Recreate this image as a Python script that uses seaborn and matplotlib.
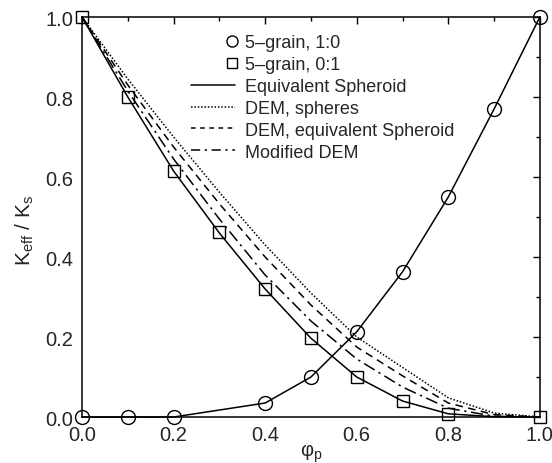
import numpy as np
import pandas as pd
import matplotlib
matplotlib.use("Agg")
import matplotlib.pyplot as plt
import seaborn as sns
from matplotlib.lines import Line2D
from matplotlib.legend_handler import HandlerLine2D
from matplotlib.ticker import MultipleLocator

# ---- data ----
phi_curve = [0.0, 0.1, 0.2, 0.3, 0.4, 0.5, 0.6, 0.7, 0.8, 0.9, 1.0]
equiv_spheroid = [1.0, 0.80, 0.615, 0.46, 0.32, 0.197, 0.10, 0.04, 0.008, 0.0008, 0.0]
dem_spheres = [1.0, 0.845, 0.70, 0.562, 0.43, 0.31, 0.20, 0.124, 0.048, 0.01, 0.0]
dem_equiv = [1.0, 0.83, 0.675, 0.533, 0.40, 0.28, 0.175, 0.103, 0.035, 0.006, 0.0]
modified_dem = [1.0, 0.815, 0.645, 0.495, 0.355, 0.24, 0.145, 0.075, 0.022, 0.002, 0.0]

phi_circ = [0.0, 0.1, 0.2, 0.4, 0.5, 0.6, 0.7, 0.8, 0.9, 1.0]
grain_10 = [0.0, 0.0, 0.0, 0.035, 0.10, 0.213, 0.363, 0.55, 0.77, 1.0]

phi_sq = [0.0, 0.1, 0.2, 0.3, 0.4, 0.5, 0.6, 0.7, 0.8, 1.0]
grain_01 = [1.0, 0.80, 0.615, 0.462, 0.32, 0.197, 0.10, 0.04, 0.008, 0.0]

xticks = [0.0, 0.2, 0.4, 0.6, 0.8, 1.0]
xticklabels = ["0.0", "0.2", "0.4", "0.6", "0.8", "1.0"]
yticks = [0.0, 0.2, 0.4, 0.6, 0.8, 1.0]
yticklabels = ["0.0", "0.2", "0.4", "0.6", "0.8", "1.0"]

labels = ["5\u2013grain, 1:0", "5\u2013grain, 0:1", "Equivalent Spheroid",
          "DEM, spheres", "DEM, equivalent Spheroid", "Modified DEM"]

# ---- style ----
sns.set_theme(style="white")
plt.rcParams["font.family"] = ["Liberation Sans", "DejaVu Sans"]
plt.rcParams["mathtext.fontset"] = "custom"
plt.rcParams["mathtext.rm"] = "Liberation Sans"
plt.rcParams["mathtext.it"] = "Liberation Sans:italic"

fig = plt.figure(figsize=(5.52, 4.64), dpi=100)
ax = fig.add_axes([0.1486, 0.0991, 0.8294, 0.8621])

lw = 1.1
curves = [
    (equiv_spheroid, None),
    (dem_spheres, (1, 1.2)),
    (dem_equiv, (5, 3.5)),
    (modified_dem, (8, 3, 1.5, 3)),
]
for vals, dash in curves:
    d = pd.DataFrame({"phi": phi_curve, "k": vals})
    sns.lineplot(data=d, x="phi", y="k", ax=ax, color="black", lw=lw,
                 estimator=None, sort=False)
    line = ax.lines[-1]
    if dash is not None:
        line.set_dashes(dash)
    line.set_clip_on(False)

# circle series connected by line
dc = pd.DataFrame({"phi": phi_circ, "k": grain_10})
sns.lineplot(data=dc, x="phi", y="k", ax=ax, color="black", lw=lw,
             estimator=None, sort=False)
ax.lines[-1].set_clip_on(False)
ax.plot(dc["phi"], dc["k"], linestyle="none", marker="o", markersize=10,
        markerfacecolor="none", markeredgecolor="black", markeredgewidth=1.0,
        clip_on=False, zorder=5)

ds = pd.DataFrame({"phi": phi_sq, "k": grain_01})
ax.plot(ds["phi"], ds["k"], linestyle="none", marker="s", markersize=9,
        markerfacecolor="none", markeredgecolor="black", markeredgewidth=1.0,
        clip_on=False, zorder=5)

ax.set_xlim(0, 1)
ax.set_ylim(0, 1)
ax.set_xticks(xticks)
ax.set_xticklabels(xticklabels)
ax.set_yticks(yticks)
ax.set_yticklabels(yticklabels)
ax.xaxis.set_minor_locator(MultipleLocator(0.1))
ax.yaxis.set_minor_locator(MultipleLocator(0.1))
ax.tick_params(which="both", direction="in", top=True, right=True,
               color="black", width=1.0)
ax.tick_params(which="major", length=5, labelsize=14.5)
ax.tick_params(axis="x", which="major", pad=5.5)
ax.tick_params(axis="y", which="major", pad=6.5)
ax.tick_params(which="minor", length=3)
for s in ax.spines.values():
    s.set_color("black")
    s.set_linewidth(1.1)

ax.set_xlabel(r"φ$_\mathrm{p}$", fontsize=14.5)
ax.xaxis.set_label_coords(0.5, -0.062)
ax.set_ylabel(r"K$_\mathrm{eff}$ / K$_\mathrm{s}$", fontsize=15)
ax.yaxis.set_label_coords(-0.10, 0.47)


class RightMarkerHandler(HandlerLine2D):
    def get_xdata(self, legend, xdescent, ydescent, width, height, fontsize):
        m = -xdescent + width - 0.15 * fontsize
        return [m - 1, m + 1], [m]


handles = [
    Line2D([], [], linestyle="none", marker="o", markersize=8,
           markerfacecolor="none", markeredgecolor="black", markeredgewidth=1.0),
    Line2D([], [], linestyle="none", marker="s", markersize=7,
           markerfacecolor="none", markeredgecolor="black", markeredgewidth=1.0),
    Line2D([], [], color="black", lw=lw),
    Line2D([], [], color="black", lw=lw, dashes=(1, 1.2)),
    Line2D([], [], color="black", lw=lw, dashes=(3, 3)),
    Line2D([], [], color="black", lw=lw, dashes=(6, 3, 1.5, 3)),
]
hm = {h: RightMarkerHandler(numpoints=1) for h in handles[:2]}
ax.legend(handles, labels, loc="upper right", bbox_to_anchor=(0.83, 0.975),
          frameon=False, fontsize=13, handlelength=2.4, handletextpad=0.6,
          labelspacing=0.27, borderaxespad=0.0, handler_map=hm)

fig.savefig("out.png", dpi=100)
